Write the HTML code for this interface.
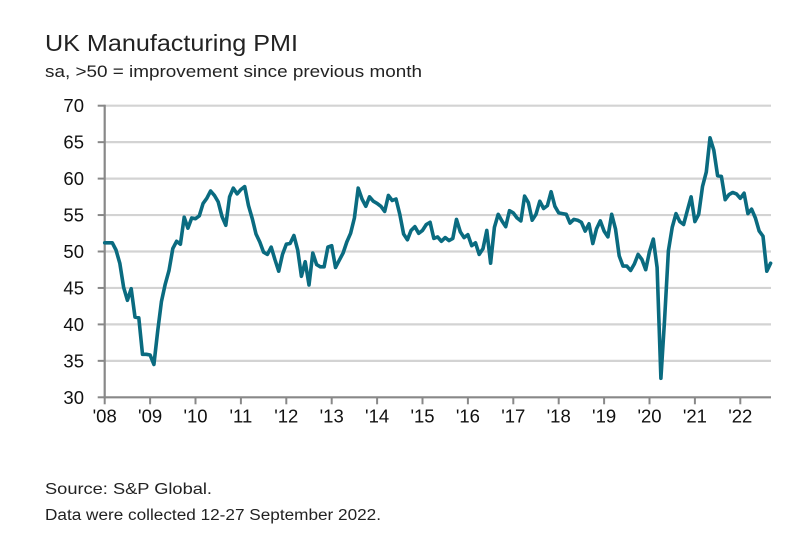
<!DOCTYPE html>
<html><head><meta charset="utf-8"><style>
html,body{margin:0;padding:0;background:#fff;}
svg{display:block;font-family:"Liberation Sans",sans-serif;}
</style></head><body>
<svg id="chart" width="811" height="540">
<text x="45" y="51" font-size="23" fill="#222" textLength="253" lengthAdjust="spacingAndGlyphs">UK Manufacturing PMI</text>
<text x="45" y="77" font-size="17" fill="#222" textLength="377" lengthAdjust="spacingAndGlyphs">sa, &gt;50 = improvement since previous month</text>
<g id="grid"></g><g id="axes"></g><g id="series"></g>
<text x="45" y="494" font-size="16" fill="#222" textLength="167" lengthAdjust="spacingAndGlyphs">Source: S&amp;P Global.</text>
<text x="45" y="520" font-size="15.5" fill="#222" textLength="336" lengthAdjust="spacingAndGlyphs">Data were collected 12-27 September 2022.</text>
</svg>
<script>
const yTicks=[30,35,40,45,50,55,60,65,70];
const years=["'08","'09","'10","'11","'12","'13","'14","'15","'16","'17","'18","'19","'20","'21","'22"];
const pmi2008=[51.2,51.2,51.2,50.2,48.4,45.1,43.3,44.9,41.0,40.9,35.9,35.9];
const pmi2009=[35.8,34.5,39.1,43.1,45.5,47.4,50.4,51.4,51.0,54.7,53.2,54.6];
const pmi2010=[54.5,54.9,56.6,57.3,58.3,57.7,56.8,54.8,53.6,57.5,58.7,57.9];
const pmi2011=[58.5,58.9,56.3,54.5,52.4,51.3,49.9,49.6,50.6,48.9,47.3,49.6];
const pmi2012=[51.0,51.1,52.2,50.2,46.6,48.6,45.4,49.8,48.2,47.9,47.9,50.6];
const pmi2013=[50.8,47.8,48.8,49.8,51.3,52.5,54.6,58.7,57.2,56.2,57.5,56.9];
const pmi2014=[56.6,56.2,55.5,57.7,57.0,57.2,55.1,52.4,51.6,52.9,53.4,52.5];
const pmi2015=[52.9,53.7,54.0,51.8,52.0,51.4,51.9,51.5,51.8,54.4,52.7,51.9];
const pmi2016=[52.3,50.8,51.2,49.6,50.4,52.9,48.4,53.3,55.1,54.2,53.4,55.6];
const pmi2017=[55.3,54.6,54.2,57.6,56.7,54.3,55.1,56.9,55.9,56.3,58.2,56.2];
const pmi2018=[55.3,55.2,55.1,53.9,54.4,54.3,54.0,52.8,53.8,51.1,53.1,54.2];
const pmi2019=[52.8,52.0,55.1,53.1,49.4,48.0,48.0,47.4,48.3,49.6,48.9,47.5];
const pmi2020=[50.0,51.7,47.8,32.6,40.7,50.1,53.3,55.2,54.1,53.7,55.6,57.5];
const pmi2021=[54.1,55.1,58.9,60.9,65.6,63.9,60.4,60.3,57.1,57.8,58.1,57.9];
const pmi2022=[57.3,58.0,55.2,55.8,54.6,52.8,52.1,47.3,48.4];
const values=[].concat(pmi2008,pmi2009,pmi2010,pmi2011,pmi2012,pmi2013,pmi2014,pmi2015,pmi2016,pmi2017,pmi2018,pmi2019,pmi2020,pmi2021,pmi2022);

const NS="http://www.w3.org/2000/svg";
const X0=104.7,PXY=45.4,XR=771,Y0=397.3,Y1=105.7;
const xScale=m=>X0+m*PXY/12;
const yScale=v=>Y0-(v-30)*(Y0-Y1)/40;
function mk(tag,attrs,parent){const e=document.createElementNS(NS,tag);for(const k in attrs)e.setAttribute(k,attrs[k]);parent.appendChild(e);return e;}
const grid=document.getElementById('grid'),axes=document.getElementById('axes'),series=document.getElementById('series');
yTicks.forEach(t=>{
  const y=yScale(t);
  if(t>30){const l=mk('line',{x1:X0,x2:XR,y1:y,y2:y,stroke:'#d3d3d3','stroke-width':2.2},grid);
  
  }
  const tk=mk('line',{x1:X0-7,x2:X0,y1:y,y2:y,stroke:'#888','stroke-width':2},axes);
  
  
  const tx=mk('text',{x:84,y:y+6.5,'text-anchor':'end','font-size':18.5,fill:'#111'},axes);
  tx.textContent=t;
  
  
});
const ya=mk('line',{x1:X0,x2:X0,y1:Y1-1,y2:Y0+1,stroke:'#888','stroke-width':2.2},axes);


const xa=mk('line',{x1:X0-1,x2:XR,y1:Y0,y2:Y0,stroke:'#888','stroke-width':2.2},axes);


years.forEach((yr,i)=>{
  const x=xScale(i*12);
  const tk=mk('line',{x1:x,x2:x,y1:Y0,y2:Y0+7,stroke:'#888','stroke-width':2},axes);
  
  
  const tx=mk('text',{x:x,y:Y0+25,'text-anchor':'middle','font-size':18.5,fill:'#111'},axes);
  tx.textContent=yr;
  
  
});
const pts=values.map((v,i)=>xScale(i).toFixed(1)+','+yScale(v).toFixed(1)).join(' ');
const line=mk('polyline',{points:pts,fill:'none',stroke:'#0a6b80','stroke-width':3.6,'stroke-linejoin':'round','stroke-linecap':'round'},series);


</script>
</body></html>
